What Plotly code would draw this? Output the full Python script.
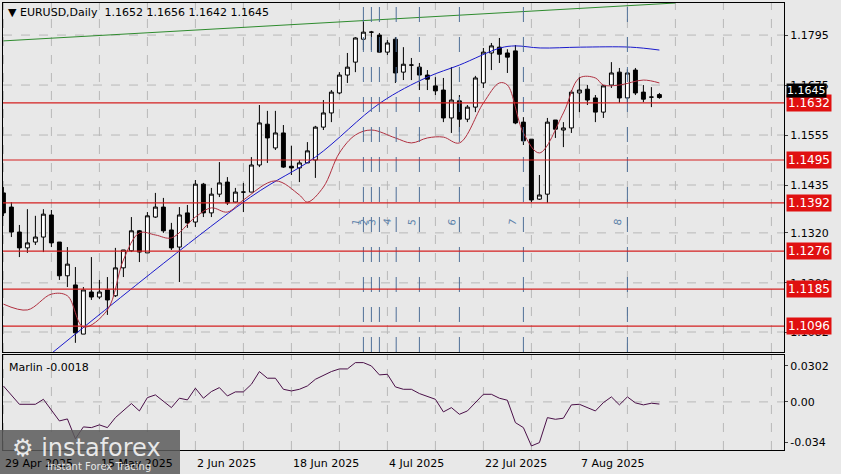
import plotly.graph_objects as go

# ---- data (bar index 0..82, daily EURUSD) ----
opens = [1.1416,1.1382,1.1322,1.1284,1.1298,1.1310,1.1363,1.1298,1.1217,1.1195,1.1077,1.1178,1.1166,1.1183,1.1169,1.1236,1.1277,1.1325,1.1272,1.1358,1.1382,1.1327,1.1286,1.1368,
         1.1346,1.1437,1.1368,1.1413,1.1442,1.1394,1.1418,1.1418,1.1483,1.1581,1.1524,1.1560,1.1480,1.1476,1.1488,1.1495,1.1574,1.1608,1.1656,1.1699,1.1730,1.1785,1.1802,1.1795,1.1754,1.1785,1.1706,1.1723,1.1718,
         1.1699,1.1673,1.1663,1.1596,1.1637,1.1593,1.1622,1.1680,1.1752,1.1766,1.1752,1.1757,1.1586,1.1545,1.1401,1.1413,1.1591,1.1567,1.1572,1.1656,1.1665,1.1644,1.1610,1.1675,1.1706,1.1644,1.1711,1.1658,1.1646,1.1652]
highs = [1.1430,1.1394,1.1339,1.1377,1.1361,1.1377,1.1375,1.1298,1.1286,1.1238,1.1190,1.1262,1.1207,1.1214,1.1284,1.1279,1.1358,1.1327,1.1370,1.1416,1.1404,1.1344,1.1382,1.1387,
         1.1447,1.1440,1.1428,1.1490,1.1454,1.1428,1.1440,1.1502,1.1627,1.1613,1.1613,1.1579,1.1529,1.1495,1.1538,1.1577,1.1639,1.1663,1.1706,1.1752,1.1790,1.1831,1.1805,1.1800,1.1783,1.1790,1.1766,1.1740,1.1728,
         1.1711,1.1694,1.1692,1.1718,1.1651,1.1627,1.1697,1.1764,1.1776,1.1788,1.1761,1.1771,1.1598,1.1545,1.1459,1.1596,1.1591,1.1586,1.1663,1.1694,1.1675,1.1651,1.1675,1.1730,1.1716,1.1713,1.1716,1.1675,1.1670,1.1656]
lows = [1.1360,1.1310,1.1262,1.1272,1.1291,1.1274,1.1286,1.1207,1.1190,1.1056,1.1077,1.1159,1.1161,1.1123,1.1166,1.1214,1.1274,1.1250,1.1272,1.1356,1.1320,1.1279,1.1202,1.1332,
        1.1334,1.1358,1.1358,1.1406,1.1387,1.1392,1.1370,1.1418,1.1478,1.1488,1.1519,1.1476,1.1459,1.1442,1.1490,1.1452,1.1567,1.1586,1.1653,1.1680,1.1706,1.1759,1.1759,1.1754,1.1747,1.1680,1.1687,1.1687,1.1663,
        1.1663,1.1651,1.1586,1.1560,1.1562,1.1586,1.1610,1.1668,1.1711,1.1728,1.1704,1.1581,1.1531,1.1394,1.1399,1.1392,1.1548,1.1526,1.1560,1.1610,1.1627,1.1586,1.1596,1.1668,1.1632,1.1632,1.1651,1.1634,1.1622,1.1642]
closes = [1.1368,1.1322,1.1284,1.1296,1.1310,1.1365,1.1296,1.1217,1.1245,1.1080,1.1183,1.1166,1.1178,1.1159,1.1236,1.1279,1.1325,1.1274,1.1361,1.1382,1.1325,1.1284,1.1363,1.1344,
          1.1437,1.1368,1.1413,1.1440,1.1392,1.1418,1.1418,1.1483,1.1584,1.1548,1.1560,1.1478,1.1476,1.1488,1.1517,1.1574,1.1608,1.1658,1.1699,1.1718,1.1788,1.1802,1.1802,1.1754,1.1776,1.1704,1.1725,1.1723,1.1699,
          1.1689,1.1661,1.1596,1.1639,1.1593,1.1622,1.1692,1.1754,1.1769,1.1749,1.1742,1.1584,1.1541,1.1399,1.1411,1.1586,1.1569,1.1572,1.1658,1.1663,1.1639,1.1610,1.1673,1.1704,1.1644,1.1704,1.1656,1.1641,1.1646,1.1645]
bars = list(range(len(opens)))

blue_x = [6.1, 30.9, 39.0, 47.1, 53.0, 57.0, 62.1, 64.0, 67.1, 72.1, 78.4, 82.0]
blue_y = [1.1032, 1.1406, 1.1502, 1.1632, 1.1694, 1.1723, 1.1764, 1.1769, 1.1764, 1.1766, 1.1766, 1.1759]

red_x = [0,3,6,8,10,13,15,17,19,21,24,26,28,30,34,37,38,40,42,44,46,49,51,53,55,57,60,62,63,65,67,70,72,74,75,77,80,82]
red_y = [1.1149,1.1135,1.1173,1.1169,1.1094,1.1135,1.1255,1.1320,1.1315,1.1308,1.1358,1.1380,1.1370,1.1399,1.1445,1.1411,1.1394,1.1430,1.1512,1.1555,1.1567,1.1548,1.1536,1.1548,1.1550,1.1536,1.1632,1.1680,1.1675,1.1560,1.1512,1.1608,1.1692,1.1692,1.1675,1.1675,1.1687,1.1680]

green_x = [0, 84]
green_y = [1.1781, 1.1872]

marlin_x = [0,2,4,5,7,8,9,10,11,12,13,14,16,17,18,19,21,22,23,24,25,26,27,28,29,30,31,32,33,34,35,36,37,38,39,41,42,43,44,45,46,47,48,49,50,51,52,
            54,55,56,57,58,60,61,62,63,64,65,66,67,68,69,70,71,72,74,75,76,77,78,79,80,81,82]
marlin_y = [0.0134,-0.0020,-0.0020,0.0022,-0.0160,-0.0143,-0.0310,-0.0210,-0.0216,-0.0193,-0.0216,-0.0132,-0.0014,-0.0076,0.0036,0.0059,-0.0048,0.0031,0.0017,0.0115,0.0031,0.0087,0.0120,0.0050,0.0084,0.0084,0.0148,0.0255,0.0199,0.0199,0.0106,0.0092,0.0106,0.0134,0.0190,0.0255,0.0277,0.0277,0.0330,0.0330,0.0302,0.0227,0.0232,0.0126,0.0106,0.0106,0.0070,
            0.0022,-0.0084,-0.0048,-0.0104,-0.0076,0.0064,0.0064,0.0031,0.0014,-0.0174,-0.0216,-0.0370,-0.0342,-0.0132,-0.0146,-0.0137,-0.0025,-0.0020,-0.0076,-0.0006,0.0042,-0.0025,0.0042,-0.0008,-0.0025,-0.0011,-0.0018]

levels = [1.1632, 1.1495, 1.1392, 1.1276, 1.1185, 1.1096]
price_ticks = [1.1795, 1.1675, 1.1555, 1.1435, 1.1320, 1.1200, 1.1082]
price_tick_text = ["1.1795", "1.1675", "1.1555", "1.1435", "1.1320", "1.1200", "1.1082"]
marlin_ticks = [0.0302, 0.0, -0.034]
marlin_tick_text = ["0.0302", "0.00", "-0.034"]
date_idx = [0, 12, 24, 36, 48, 60, 72]
date_text = ["29 Apr 2025", "15 May 2025", "2 Jun 2025", "18 Jun 2025", "4 Jul 2025", "22 Jul 2025", "7 Aug 2025"]
wave_lines = [45, 46, 47, 49.1, 52, 57, 65, 78]
wave_label_x = [44, 45, 46, 47.9, 51, 56, 63.6, 76.7]
wave_labels = ["1", "2", "3", "4", "5", "6", "7", "8"]
last_price = 1.1645

W, H = 841, 474
X0, X1 = 3, 784
FONT = "DejaVu Sans"
xr = [-0.05, (X1 - X0) / 8 - 0.05]

fig = go.Figure()
fig.add_trace(go.Candlestick(x=bars, open=opens, high=highs, low=lows, close=closes,
    increasing=dict(fillcolor="white", line=dict(color="black", width=1)),
    decreasing=dict(fillcolor="black", line=dict(color="black", width=1)),
    whiskerwidth=0, showlegend=False, xaxis="x", yaxis="y"))
fig.add_trace(go.Scatter(x=green_x, y=green_y, mode="lines", line=dict(color="#2e8b2e", width=1), showlegend=False))
fig.add_trace(go.Scatter(x=blue_x, y=blue_y, mode="lines", line=dict(color="#1a1acc", width=1, shape="spline"), showlegend=False))
fig.add_trace(go.Scatter(x=red_x, y=red_y, mode="lines", line=dict(color="#b03040", width=1, shape="spline"), showlegend=False))
fig.add_trace(go.Scatter(x=marlin_x, y=marlin_y, mode="lines", line=dict(color="#4a1048", width=1), showlegend=False, xaxis="x2", yaxis="y2"))

shapes = []
k = 0
while k * 6 < xr[1]:
    for ax in (("x", "y"), ("x2", "y2")):
        shapes.append(dict(type="line", xref=ax[0], yref=ax[1] + " domain", x0=k * 6, x1=k * 6, y0=0, y1=1,
                           line=dict(color="#b8b8b8", width=1, dash="dash"), layer="below"))
    k += 1
for t in price_ticks:
    shapes.append(dict(type="line", xref="x domain", yref="y", x0=0, x1=1, y0=t, y1=t,
                       line=dict(color="#b8b8b8", width=1, dash="dash"), layer="below"))
shapes.append(dict(type="line", xref="x2 domain", yref="y2", x0=0, x1=1, y0=0, y1=0,
                   line=dict(color="#b8b8b8", width=1, dash="dash"), layer="below"))
for v in wave_lines:
    shapes.append(dict(type="line", xref="x", yref="y domain", x0=v, x1=v, y0=0, y1=1,
                       line=dict(color="#4f6f98", width=1, dash="longdash")))
for lv in levels:
    shapes.append(dict(type="line", xref="x domain", yref="y", x0=0, x1=1, y0=lv, y1=lv,
                       line=dict(color="#d42020", width=1.2)))
shapes.append(dict(type="rect", xref="paper", yref="paper", x0=0, x1=180 / W, y0=0, y1=44 / H,
                   fillcolor="rgba(90,90,90,0.85)", line=dict(width=0)))

ann = []
ann.append(dict(xref="paper", yref="paper", x=6 / W, y=1 - 12 / H, text="▼ EURUSD,Daily  1.1652 1.1656 1.1642 1.1645",
                showarrow=False, xanchor="left", yanchor="middle", font=dict(family=FONT, size=11, color="black")))
ann.append(dict(xref="paper", yref="paper", x=7 / W, y=1 - 367 / H, text="Marlin -0.0018",
                showarrow=False, xanchor="left", yanchor="middle", font=dict(family=FONT, size=11, color="black")))
for lv in levels:
    ann.append(dict(xref="paper", yref="y", x=786 / W, y=lv, text="%.4f" % lv, showarrow=False, xanchor="left",
                    yanchor="middle", bgcolor="#e01010", font=dict(family=FONT, size=12, color="white"), borderpad=1))
ann.append(dict(xref="paper", yref="y", x=786 / W, y=last_price, text="%.4f" % last_price, showarrow=False, xanchor="left",
                yanchor="bottom", bgcolor="black", font=dict(family=FONT, size=11, color="white"), borderpad=0))
for i, t in zip(date_idx, date_text):
    ann.append(dict(xref="x2", yref="paper", x=i, y=1 - 463 / H, text=t, showarrow=False, xanchor="left",
                    yanchor="middle", font=dict(family=FONT, size=11, color="black")))
for xv, t in zip(wave_label_x, wave_labels):
    ann.append(dict(xref="x", yref="paper", x=xv, y=1 - 222 / H, text=t, showarrow=False, textangle=-80,
                    font=dict(family=FONT, size=10, color="#5a7fa8")))
ann.append(dict(xref="paper", yref="paper", x=10 / W, y=1 - 448 / H, text="⚙ instaforex", showarrow=False,
                xanchor="left", yanchor="middle", font=dict(family=FONT, size=24, color="rgba(255,255,255,0.85)")))
ann.append(dict(xref="paper", yref="paper", x=45 / W, y=1 - 466 / H, text="Instant Forex Tracing", showarrow=False,
                xanchor="left", yanchor="middle", font=dict(family=FONT, size=10, color="rgba(255,255,255,0.85)")))

fig.update_layout(
    width=W, height=H, margin=dict(l=0, r=0, t=0, b=0),
    paper_bgcolor="#e8e8e8", plot_bgcolor="#e8e8e8",
    font=dict(family=FONT, size=11, color="black"),
    shapes=shapes, annotations=ann,
    xaxis=dict(domain=[X0 / W, X1 / W], range=xr, showgrid=False, zeroline=False, showticklabels=False,
               rangeslider=dict(visible=False), showline=True, mirror=True, linecolor="black", anchor="y"),
    yaxis=dict(domain=[1 - 352 / H, 1 - 3 / H], range=[1.1034, 1.1872], side="right", tickvals=price_ticks,
               ticktext=price_tick_text, showgrid=False, zeroline=False, showline=True, mirror=True,
               linecolor="black", ticks="outside", ticklen=3, anchor="x"),
    xaxis2=dict(domain=[X0 / W, X1 / W], range=xr, showgrid=False, zeroline=False, showticklabels=False,
                showline=True, mirror=True, linecolor="black", anchor="y2"),
    yaxis2=dict(domain=[1 - 450 / H, 1 - 355 / H], range=[-0.0404, 0.0394], side="right", tickvals=marlin_ticks,
                ticktext=marlin_tick_text, showgrid=False, zeroline=False, showline=True, mirror=True,
                linecolor="black", ticks="outside", ticklen=3, anchor="x2"),
)
fig.write_html("out.html", config={"displayModeBar": False},
               post_script="document.body.style.margin='0';document.body.style.overflow='hidden';")
